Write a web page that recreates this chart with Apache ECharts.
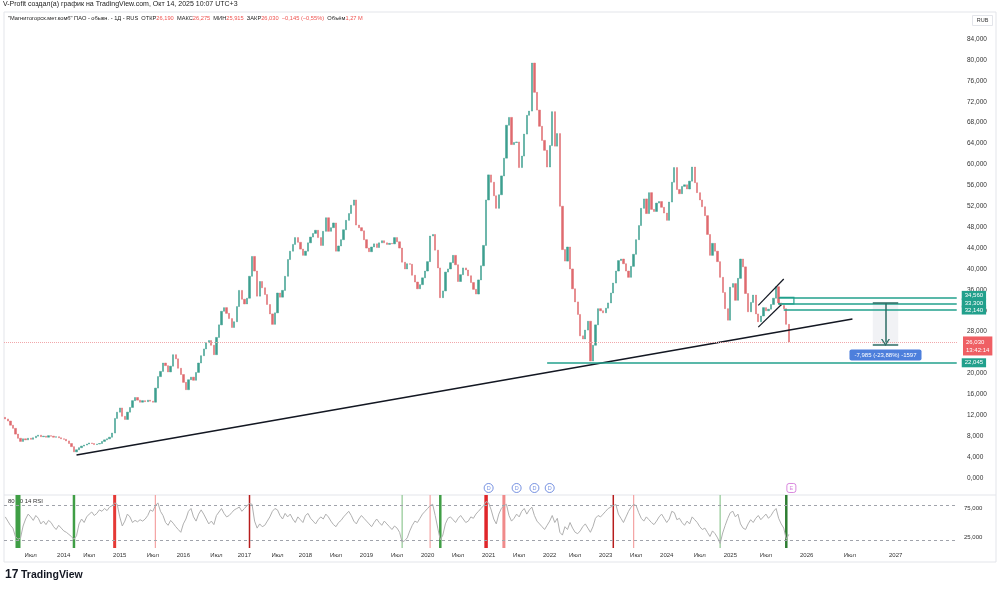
<!DOCTYPE html>
<html>
<head>
<meta charset="utf-8">
<script src="https://cdn.jsdelivr.net/npm/echarts@6/dist/echarts.min.js"></script>
<style>
html, body { margin: 0; padding: 0; background: #fff; }
#main { width: 1000px; height: 591px; }
</style>
</head>
<body>
<div id="main"></div>
<script>
// half-month slots, 0 = Feb 2013; closes in RUB
var slotCount = 375;
var firstOpen = 11.6;
var closes = [
    11.3, 10.9, 10.1, 9.5, 8.4, 7.6, 7.0, 7.5, 7.3, 7.6,
    7.4, 7.7, 8.0, 8.2, 7.9, 8.0, 7.8, 8.1, 8.0, 7.8,
    7.9, 7.7, 7.5, 7.4, 7.1, 6.6, 6.0, 5.0, 5.4, 5.8,
    6.1, 6.3, 6.5, 6.7, 6.6, 6.4, 6.5, 6.6, 7.0, 7.3,
    7.5, 7.8, 8.6, 11.4, 12.6, 13.4, 11.8, 11.2, 12.6, 13.5,
    14.8, 15.4, 14.9, 14.5, 14.8, 14.6, 14.9, 14.7, 14.5, 17.2,
    19.4, 20.4, 22.0, 21.5, 20.3, 21.4, 23.6, 22.8, 21.0, 19.8,
    18.3, 16.9, 18.8, 19.3, 18.7, 20.2, 22.0, 23.4, 24.7, 25.9,
    26.3, 25.4, 23.6, 26.9, 29.3, 31.9, 32.6, 31.5, 30.5, 28.8,
    29.9, 32.8, 35.9, 34.2, 33.3, 34.4, 38.6, 42.4, 39.6, 34.8,
    37.6, 36.4, 35.1, 33.2, 31.4, 29.4, 31.6, 35.4, 34.6, 35.9,
    38.6, 41.8, 43.4, 44.7, 46.0, 45.1, 43.8, 42.6, 43.4, 45.0,
    46.1, 46.8, 47.4, 46.0, 44.5, 47.2, 49.8, 47.2, 47.9, 48.8,
    43.4, 44.4, 45.6, 47.5, 49.3, 50.6, 52.2, 53.2, 48.4, 47.9,
    47.3, 45.6, 44.0, 43.3, 44.2, 44.8, 44.1, 45.0, 45.4, 45.0,
    44.7, 44.9, 44.8, 46.0, 45.2, 44.0, 41.3, 40.0, 41.0, 40.9,
    38.8, 37.5, 36.2, 37.0, 38.3, 39.6, 41.4, 46.3, 46.6, 43.6,
    40.2, 34.5, 35.8, 39.4, 40.0, 41.2, 42.6, 40.8, 37.6, 38.9,
    40.2, 39.8, 38.7, 37.4, 36.1, 35.2, 37.9, 40.6, 44.5, 53.2,
    58.0, 56.6, 54.0, 51.6, 54.2, 57.8, 61.2, 67.5, 69.0, 63.8,
    64.2, 64.3, 59.4, 61.6, 65.8, 69.4, 70.2, 79.4, 73.8, 70.4,
    67.3, 64.6, 62.7, 59.5, 63.6, 70.1, 63.5, 65.9, 52.0, 43.7,
    41.5, 44.2, 40.0, 36.2, 33.7, 31.3, 27.2, 26.6, 28.3, 30.0,
    22.4, 25.4, 29.3, 32.4, 32.0, 31.6, 32.5, 33.5, 35.4, 37.3,
    39.6, 41.6, 41.9, 41.0, 39.6, 38.4, 40.5, 42.8, 45.6, 48.3,
    51.6, 53.4, 50.6, 54.6, 51.4, 51.0, 52.6, 52.9, 51.8, 50.7,
    49.3, 52.8, 56.6, 59.4, 55.2, 54.4, 55.8, 56.1, 55.3, 56.8,
    59.5, 56.5, 54.6, 53.2, 51.9, 50.2, 46.6, 42.6, 44.9, 43.4,
    41.4, 38.4, 35.5, 32.4, 30.2, 36.5, 37.2, 34.0, 38.2, 41.9,
    40.4, 35.3, 31.8, 33.6, 35.0, 31.4, 29.9, 31.0, 32.6, 32.0,
    32.3, 33.2, 34.4, 36.6, 33.5, 33.0, 32.4, 29.4, 26.03
];
var rsiValues = [
    58, 52, 46, 42, 30, 26, 28, 45, 55, 62,
    58, 53, 60, 56, 48, 52, 47, 53, 50, 44,
    40, 46, 42, 38, 36, 33, 30, 26, 31, 48,
    55, 50, 58, 62, 65, 60, 63, 68, 66, 70,
    67, 72, 74, 78, 76, 58, 45, 52, 62, 58,
    50, 53, 51, 54, 52, 55, 60, 68, 66, 74,
    78, 66, 60, 50, 46, 53, 49, 44, 40, 36,
    48, 55, 66, 70, 58, 52, 62, 68, 62, 55,
    48, 52, 47, 60, 65, 70, 63, 58, 60, 64,
    68, 70, 72, 66, 70, 74, 77, 76, 52, 42,
    48, 44, 46, 52, 58, 66, 70, 68, 60, 55,
    63, 58, 62, 55, 50, 58, 54, 50, 60, 63,
    56, 52, 48, 54, 58, 55, 62, 58, 52, 47,
    44, 50, 53, 58, 62, 66, 60, 52, 48, 55,
    60, 56, 52, 48, 44, 50, 55, 50, 46, 52,
    48, 44, 40, 45, 42, 36, 22, 24, 28, 38,
    46, 52, 50, 56, 62, 66, 70, 74, 76, 60,
    42, 25, 32, 48, 56, 58, 54, 50, 56, 60,
    55, 50, 52, 58, 56, 62, 66, 70, 74, 80,
    78, 68, 55, 48, 62, 70, 74, 76, 60, 52,
    56, 62, 58, 66, 70, 62, 68, 72, 60, 52,
    48, 44, 40, 46, 52, 60, 50, 56, 36, 32,
    44, 40, 50, 42, 36, 34, 38, 44, 48, 42,
    36, 44, 56, 60, 58, 62, 66, 70, 72, 74,
    76, 62, 56, 50, 58, 66, 72, 76, 74, 64,
    56, 52, 58, 54, 50, 47, 52, 58, 62, 56,
    50, 55, 66, 64, 54, 56, 50, 46, 52, 48,
    58, 54, 50, 44, 40, 42, 36, 30, 38, 34,
    28, 20, 35, 46, 56, 64, 66, 58, 62, 48,
    42, 40, 48, 54, 50, 56, 60, 54, 58, 62,
    56, 60, 66, 70, 56, 48, 42, 26, 33
];
var timeLabels = [
    [10, 'Июл'], [23, '2014'], [33, 'Июл'], [45, '2015'], [58, 'Июл'], [70, '2016'],
    [83, 'Июл'], [94, '2017'], [107, 'Июл'], [118, '2018'], [130, 'Июл'], [142, '2019'],
    [154, 'Июл'], [166, '2020'], [178, 'Июл'], [190, '2021'], [202, 'Июл'], [214, '2022'],
    [224, 'Июл'], [236, '2023'], [248, 'Июл'], [260, '2024'], [273, 'Июл'], [285, '2025'],
    [299, 'Июл'], [315, '2026'], [332, 'Июл'], [350, '2027']
];
// RSI signal bars: slot, kind
var signalBars = [
    [5, 'wideGreen'], [27, 'green'], [43, 'red'], [59, 'pink'], [96, 'darkRed'],
    [156, 'lightGreen'], [167, 'pink'], [171, 'green'], [189, 'redWide'], [196, 'lightRed'],
    [239, 'darkRed'], [247, 'pink'], [281, 'lightGreen'], [307, 'darkGreen']
];
var dividendSlots = [190, 201, 208, 214];
var earningsSlots = [309];
// drawings (slot, price)
var trendLine = [[28, 4.40], [333, 30.43]];
var channelUpper = [[296, 33.03], [306, 38.08]];
var channelLower = [[296, 28.86], [305, 33.14]];
var levels = [[304, 34.56], [304, 33.30], [306, 32.14], [213, 22.045]];
var lastPrice = 26.03;
var lastTime = '13:42:14';
var measureFrom = 33.44, measureTo = 25.455;
var measureSlots = [341, 346, 351];
var measureText = '-7,985 (-23,88%) -1597';
var rsiLevels = [75, 25];

var FONT = '"Liberation Sans", "Noto Sans", sans-serif';
var TEAL = '#22a08c';
var UP = '#3d9f8f', DOWN = '#df6a6f';
var bandStyles = {
    wideGreen: { w: 5, c: '#3f9e45' },
    green: { w: 2.5, c: '#3f9e45' },
    darkGreen: { w: 2.5, c: '#2e7d32' },
    lightGreen: { w: 1.2, c: '#8fc892' },
    red: { w: 3, c: '#e53935' },
    redWide: { w: 3.5, c: '#e0262a' },
    darkRed: { w: 1.5, c: '#b71c1c' },
    lightRed: { w: 3, c: '#f08a8a' },
    pink: { w: 1.2, c: '#f4a3a3' }
};

function fmt(v) { return v.toFixed(3).replace('.', ','); }

var slots = [];
for (var i = 0; i < slotCount; i++) slots.push(String(i));
var labelMap = {};
timeLabels.forEach(function (t) { labelMap[t[0]] = t[1]; });

var candles = closes.map(function (c, i) {
    var o = i ? closes[i - 1] : firstOpen;
    return [o, c, Math.min(o, c), Math.max(o, c)];
});

function tag(text, bg, offY) {
    return {
        show: true, position: 'end', distance: 5, formatter: text,
        color: '#fff', backgroundColor: bg, padding: [2, 3, 1, 3],
        fontSize: 6, fontFamily: FONT, offset: [0, offY || 0]
    };
}
var noLabel = { show: false };
var lastSlot = slotCount - 1;

var lines = [
    [{ coord: trendLine[0], lineStyle: { color: '#131722', width: 1.6, type: 'solid' }, label: noLabel }, { coord: trendLine[1] }],
    [{ coord: channelUpper[0], lineStyle: { color: '#131722', width: 1.2, type: 'solid' }, label: noLabel }, { coord: channelUpper[1] }],
    [{ coord: channelLower[0], lineStyle: { color: '#131722', width: 1.2, type: 'solid' }, label: noLabel }, { coord: channelLower[1] }]
];
var tagOffsets = [-2, -1, 0, 0];
levels.forEach(function (l, k) {
    lines.push([
        { coord: l, lineStyle: { color: TEAL, width: 1.5, type: 'solid' }, label: tag(fmt(l[1]), TEAL, tagOffsets[k]) },
        { coord: [lastSlot, l[1]] }
    ]);
});
lines.push({
    yAxis: lastPrice,
    lineStyle: { color: '#f1a7aa', width: 1, type: 'dotted' },
    label: {
        show: true, position: 'end', distance: 5, formatter: fmt(lastPrice) + '\n' + lastTime,
        color: '#fff', backgroundColor: '#ef5f64', padding: [2, 3, 1, 3], lineHeight: 8,
        fontSize: 6, fontFamily: FONT, offset: [0, 4]
    }
});
var mColor = '#2d6d64';
lines.push([{ coord: [measureSlots[0], measureFrom], lineStyle: { color: mColor, width: 1.5, type: 'solid' }, label: noLabel }, { coord: [measureSlots[2], measureFrom] }]);
lines.push([{ coord: [measureSlots[0], measureTo], lineStyle: { color: mColor, width: 1.5, type: 'solid' }, label: noLabel }, { coord: [measureSlots[2], measureTo] }]);
lines.push([
    { coord: [measureSlots[1], measureFrom], lineStyle: { color: mColor, width: 1.5, type: 'solid' }, label: noLabel, symbol: 'none' },
    { coord: [measureSlots[1], measureTo + 0.45], symbol: 'path://M0,10L5,0L10,10L8.4,10L5,3.2L1.6,10Z', symbolSize: [9, 7] }
]);

var chart = echarts.init(document.getElementById('main'));
var option = {
    backgroundColor: '#fff',
    animation: false,
    textStyle: { fontFamily: FONT },
    grid: [
        { left: 4, right: 42, top: 18.1, height: 480.8, outerBoundsMode: 'none' },
        { left: 4, right: 42, top: 495, height: 53, outerBoundsMode: 'none' }
    ],
    xAxis: [
        { type: 'category', gridIndex: 0, data: slots, boundaryGap: true, show: false },
        {
            type: 'category', gridIndex: 1, data: slots, boundaryGap: true,
            axisLine: { show: false }, axisTick: { show: false }, splitLine: { show: false },
            axisLabel: {
                interval: function (idx) { return labelMap.hasOwnProperty(idx); },
                formatter: function (v, idx) { return labelMap[idx] || ''; },
                fontSize: 6, color: '#333', margin: 4, fontFamily: FONT
            }
        }
    ],
    yAxis: [
        {
            type: 'value', gridIndex: 0, position: 'right', min: -4, max: 88, interval: 4,
            axisLine: { show: false }, axisTick: { show: false }, splitLine: { show: false },
            axisLabel: {
                formatter: function (v) { return (v < 0 || v > 84) ? '' : fmt(v); },
                fontSize: 6.5, color: '#333', margin: 9, fontFamily: FONT
            }
        },
        {
            type: 'value', gridIndex: 1, position: 'right', min: 13.57, max: 89.29,
            axisLine: { show: false }, axisTick: { show: false }, splitLine: { show: false },
            axisLabel: { show: false }
        }
    ],
    series: [
        {
            type: 'candlestick', xAxisIndex: 0, yAxisIndex: 0, data: candles, barWidth: 1.8,
            itemStyle: { color: UP, color0: DOWN, borderColor: UP, borderColor0: DOWN, borderWidth: 0.5 },
            markLine: { silent: true, symbol: ['none', 'none'], animation: false,
                        lineStyle: { type: 'solid' }, data: lines },
            markArea: {
                silent: true,
                data: [
                    [{ coord: [measureSlots[0], measureFrom], itemStyle: { color: 'rgba(215,219,226,0.35)' } },
                     { coord: [measureSlots[2], measureTo] }],
                    [{ coord: [levels[0][0], levels[0][1]], itemStyle: { color: '#fff', borderColor: TEAL, borderWidth: 1.2 } },
                     { coord: [levels[0][0] + 6, levels[1][1]] }]
                ]
            },
            markPoint: {
                silent: true,
                data: [{
                    coord: [measureSlots[1], measureTo - 1.9], symbol: 'rect', symbolSize: 0,
                    label: {
                        show: true, position: 'inside', formatter: measureText, color: '#fff',
                        backgroundColor: '#4d7fdc', padding: [3, 5, 2, 5], borderRadius: 2,
                        fontSize: 6, fontFamily: FONT
                    }
                }]
            },
            z: 3
        },
        {
            type: 'custom', xAxisIndex: 1, yAxisIndex: 1, coordinateSystem: 'cartesian2d',
            data: signalBars.map(function (b) { return [b[0], 50]; }),
            encode: { x: 0, y: 1 },
            renderItem: function (params, api) {
                var x = api.coord([api.value(0), 50])[0];
                var cs = params.coordSys;
                var st = bandStyles[signalBars[params.dataIndex][1]];
                return {
                    type: 'rect',
                    shape: { x: x - st.w / 2, y: cs.y, width: st.w, height: cs.height },
                    style: { fill: st.c }
                };
            },
            z: 1
        },
        {
            type: 'line', xAxisIndex: 1, yAxisIndex: 1, data: rsiValues, showSymbol: false,
            lineStyle: { color: '#b0b0b0', width: 1 }, z: 2,
            markLine: {
                silent: true, symbol: ['none', 'none'],
                lineStyle: { color: '#a0a3ab', type: [3, 3], width: 1 },
                data: rsiLevels.map(function (v, k) {
                    return {
                        yAxis: v,
                        label: {
                            show: true, position: 'end', distance: 6, formatter: fmt(v),
                            color: '#333', fontSize: 6, fontFamily: FONT, offset: [0, k ? -3 : 3]
                        }
                    };
                })
            }
        },
        {
            type: 'scatter', xAxisIndex: 1, yAxisIndex: 1, clip: false,
            data: dividendSlots.map(function (s) { return [s, 99.3]; }),
            symbol: 'circle', symbolSize: 9,
            itemStyle: { color: '#fff', borderColor: '#5577d9', borderWidth: 1 },
            label: { show: true, position: 'inside', formatter: 'D', color: '#5577d9', fontSize: 5.5, fontFamily: FONT },
            z: 5
        },
        {
            type: 'scatter', xAxisIndex: 1, yAxisIndex: 1, clip: false,
            data: earningsSlots.map(function (s) { return [s, 99.3]; }),
            symbol: 'roundRect', symbolSize: 9,
            itemStyle: { color: '#fff', borderColor: '#d06ad6', borderWidth: 1 },
            label: { show: true, position: 'inside', formatter: 'E', color: '#d06ad6', fontSize: 5.5, fontFamily: FONT },
            z: 5
        }
    ],
    graphic: [
        { type: 'rect', silent: true, z: -10, shape: { x: 4, y: 12, width: 992, height: 550 },
          style: { fill: 'none', stroke: '#e3e5ea', lineWidth: 1 } },
        { type: 'line', silent: true, z: -10, shape: { x1: 4, y1: 495, x2: 996, y2: 495 },
          style: { stroke: '#e3e5ea', lineWidth: 1 } },
        { type: 'text', left: 3, top: 1,
          style: { text: 'V-Profit создал(а) график на TradingView.com, Окт 14, 2025 10:07 UTC+3',
                   fill: '#222', font: '7px ' + FONT } },
        { type: 'text', left: 8, top: 15,
          style: {
              text: '"Магнитогорск.мет.комб" ПАО - обыкн. - 1Д - RUS  ОТКР{r|26,190}  МАКС{r|26,275}  МИН{r|25,915}  ЗАКР{r|26,030}  {r|−0,145 (−0,55%)}  Объём{r|1,27 M}',
              fill: '#222', font: '5.7px ' + FONT,
              rich: { r: { fill: '#ef5350', fontSize: 5.7, fontFamily: FONT } }
          } },
        { type: 'group', left: 972, top: 15, children: [
            { type: 'rect', shape: { x: 0, y: 0, width: 20, height: 10 }, style: { fill: '#fff', stroke: '#e3e5ea' } },
            { type: 'text', x: 10, y: 5, style: { text: 'RUB', fill: '#333', font: '5.5px ' + FONT, align: 'center', verticalAlign: 'middle' } }
        ] },
        { type: 'text', left: 8, top: 498,
          style: { text: '80 20 14 RSI', fill: '#333', font: '6px ' + FONT } },
        { type: 'text', left: 5, top: 569,
          style: { text: '17', fill: '#131722', font: '900 12px ' + FONT } },
        { type: 'text', left: 21, top: 570,
          style: { text: 'TradingView', fill: '#131722', font: 'bold 10.5px ' + FONT } }
    ]
};
chart.setOption(option);
</script>
</body>
</html>
